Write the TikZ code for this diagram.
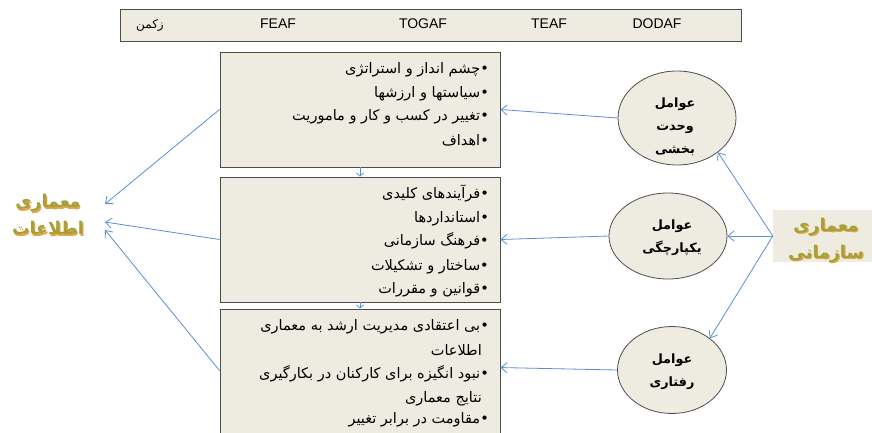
\documentclass[tikz,border=0pt]{standalone}
\usepackage{fontspec}
\setmainfont{Liberation Sans}
\newfontfamily\fa[Script=Arabic]{DejaVu Sans}
\TeXXeTstate=1
\usetikzlibrary{shapes.geometric,arrows.meta}
\definecolor{boxfill}{HTML}{EEECE1}
\definecolor{boxline}{HTML}{4D4D4D}
\definecolor{arrowblue}{HTML}{5B8ED6}
\definecolor{labelolive}{HTML}{A3A23A}
\definecolor{shadoworange}{HTML}{E8A04A}
\begin{document}
\begin{tikzpicture}[x=1pt,y=-1pt,
  panel/.style={draw=boxline,fill=boxfill,line width=0.9pt,inner sep=0,minimum width=280pt},
  circ/.style={ellipse,draw=boxline,fill=boxfill,line width=0.8pt,inner sep=0},
  arr/.style={draw=arrowblue,line width=0.8pt,-{Straight Barb[length=6pt,width=10pt]}},
  smallarr/.style={draw=arrowblue,line width=0.8pt,-{Straight Barb[length=3pt,width=7pt]}},
  item/.style={anchor=base east,inner sep=0,font=\fa\fontsize{14.5}{16}\selectfont},
  ctext/.style={align=center,inner sep=0,font=\fa\bfseries\fontsize{12.8}{23}\selectfont},
  big/.style={align=center,inner sep=0,font=\fa\bfseries\fontsize{17.5}{27}\selectfont},
  head/.style={inner sep=0,font=\fontsize{14}{16}\selectfont}
]
\useasboundingbox (0,0) rectangle (872,432);
\clip (0,0) rectangle (872,432);

% top bar
\node[draw=boxline,fill=boxfill,line width=0.9pt,minimum width=621pt,minimum height=32pt,inner sep=0] (bar) at (430.5,25) {};
\node[inner sep=0,font=\fa\fontsize{12}{14}\selectfont] (zachman) at (150,25) {\beginR زکمن\endR};
\node[head] (feaf) at (278,24) {FEAF};
\node[head] (togaf) at (423,24) {TOGAF};
\node[head] (teaf) at (549,24) {TEAF};
\node[head] (dodaf) at (657,24) {DODAF};

% boxes
\node[panel,minimum height=115pt] (b1) at (360,109.5) {};
\node[panel,minimum height=125pt] (b2) at (360,239.5) {};
\node[panel,minimum height=142pt] (b3) at (360,380) {};

\node[item] (t11) at (489,73) {\beginR •چشم انداز و استراتژی\endR};
\node[item] (t12) at (489,97) {\beginR •سیاستها و ارزشها\endR};
\node[item] (t13) at (489,120) {\beginR •تغییر در کسب و کار و ماموریت\endR};
\node[item] (t14) at (489,145) {\beginR •اهداف\endR};

\node[item] (t21) at (489,198) {\beginR •فرآیندهای کلیدی\endR};
\node[item] (t22) at (489,222) {\beginR •استانداردها\endR};
\node[item] (t23) at (489,245) {\beginR •فرهنگ سازمانی\endR};
\node[item] (t24) at (489,270) {\beginR •ساختار و تشکیلات\endR};
\node[item] (t25) at (489,293) {\beginR •قوانین و مقررات\endR};

\node[item] (t31) at (489,330) {\beginR •بی اعتقادی مدیریت ارشد به معماری\endR};
\node[item] (t32) at (482,355) {\beginR اطلاعات\endR};
\node[item] (t33) at (489,378) {\beginR •نبود انگیزه برای کارکنان در بکارگیری\endR};
\node[item] (t34) at (482,402) {\beginR نتایج معماری\endR};
\node[item] (t35) at (489,423) {\beginR •مقاومت  در برابر تغییر\endR};

% circles
\node[circ,minimum width=118pt,minimum height=94pt] (c1) at (677,118) {};
\node[circ,minimum width=118pt,minimum height=86pt] (c2) at (668,236) {};
\node[circ,minimum width=109pt,minimum height=87pt] (c3) at (672,370) {};
\node[ctext] (c1t) at (675,127) {\beginR عوامل\endR\\\beginR وحدت\endR\\\beginR بخشی\endR};
\node[ctext] (c2t) at (672,238) {\beginR عوامل\endR\\\beginR یکپارچگی\endR};
\node[ctext] (c3t) at (672,372) {\beginR عوامل\endR\\\beginR رفتاری\endR};

% right label
\node[fill=boxfill,minimum width=99pt,minimum height=52pt,inner sep=0] (orgbox) at (822.5,236) {};
\node[big,text=shadoworange] (orgshadow) at (827.2,241.6) {\beginR معماری\endR\\\beginR سازمانی\endR};
\node[big,text=labelolive] (orglabel) at (826,240) {\beginR معماری\endR\\\beginR سازمانی\endR};
\coordinate (apex) at (orgbox.west);

% left label
\node[big,text=shadoworange] (infoshadow) at (49.2,216.1) {\beginR معماری\endR\\\beginR اطلاعات\endR};
\node[big,text=labelolive] (infolabel) at (48,214.5) {\beginR معماری\endR\\\beginR اطلاعات\endR};
\coordinate (in1) at (105,204);
\coordinate (in2) at (105,222);
\coordinate (in3) at (105,230);
\coordinate (b3w) at ([yshift=-62pt]b3.north west);
\coordinate (b3e) at ([yshift=-59pt]b3.north east);

% connectors
\draw[arr] (b1.west) -- (in1);
\draw[arr] (b2.west) -- (in2);
\draw[arr] (b3w) -- (in3);
\draw[arr] (c1.west) -- (b1.east);
\draw[arr] (c2.west) -- (b2.east);
\draw[arr] (c3.west) -- (b3e);
\draw[arr] (apex) -- (c1.-40);
\draw[arr] (apex) -- (c2.east);
\draw[arr] (apex) -- (c3.40);
\draw[smallarr] (b1.south) -- (b2.north);
\draw[smallarr] (b2.south) -- (b3.north);
\end{tikzpicture}
\end{document}
